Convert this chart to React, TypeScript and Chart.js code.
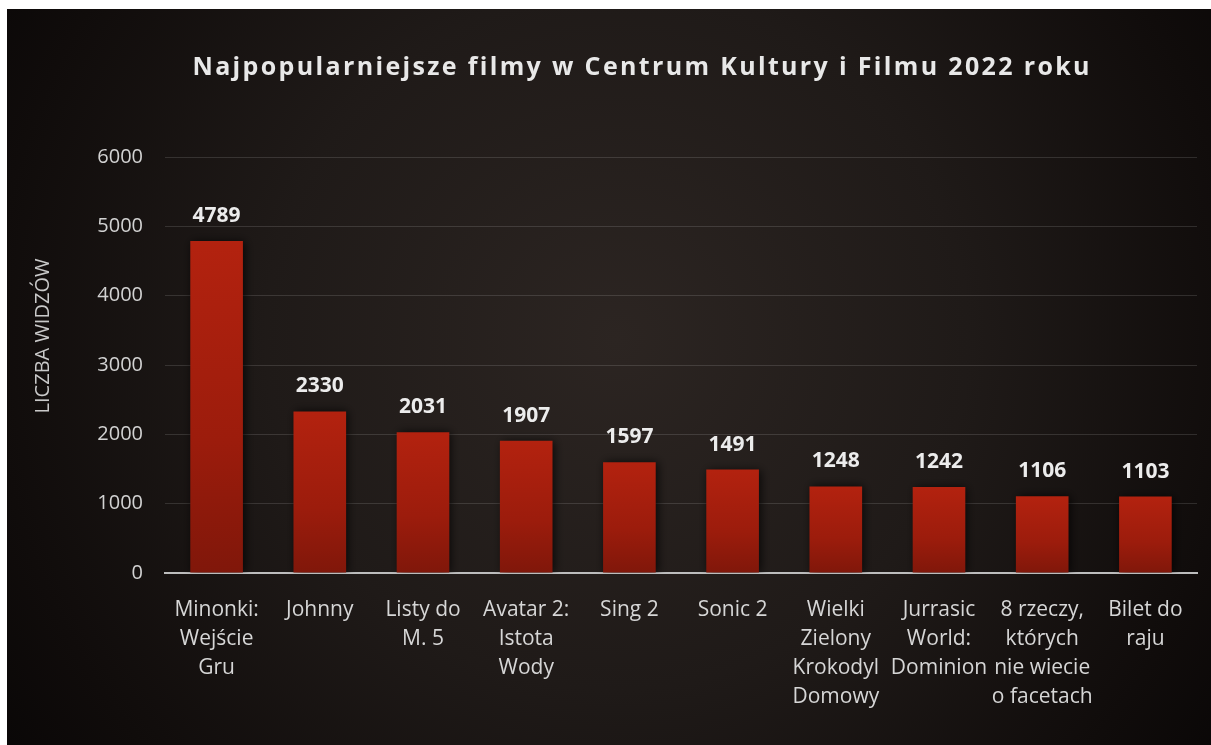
import React, { useEffect, useRef } from 'react';
import { Chart, registerables } from 'chart.js';

Chart.register(...registerables);

const chartTitle = 'Najpopularniejsze filmy w Centrum Kultury i Filmu 2022 roku';
const yAxisTitle = 'LICZBA WIDZÓW';
const categories: string[][] = [
  ['Minonki:', 'Wejście', 'Gru'],
  ['Johnny'],
  ['Listy do', 'M. 5'],
  ['Avatar 2:', 'Istota', 'Wody'],
  ['Sing 2'],
  ['Sonic 2'],
  ['Wielki', 'Zielony', 'Krokodyl', 'Domowy'],
  ['Jurrasic', 'World:', 'Dominion'],
  ['8 rzeczy,', 'których', 'nie wiecie', 'o facetach'],
  ['Bilet do', 'raju'],
];
const viewers = [4789, 2330, 2031, 1907, 1597, 1491, 1248, 1242, 1106, 1103];
const yMin = 0;
const yMax = 6000;
const yStep = 1000;

const FONT = '"Open Sans", "DejaVu Sans", sans-serif';

const decorPlugin = {
  id: 'decor',
  beforeDraw(chart: any) {
    const { ctx, width, height } = chart;
    ctx.save();
    const g = ctx.createRadialGradient(610, 330, 0, 610, 330, 780);
    g.addColorStop(0, '#2c2522');
    g.addColorStop(0.45, '#1f1a18');
    g.addColorStop(0.8, '#100c0b');
    g.addColorStop(1, '#070505');
    ctx.fillStyle = g;
    ctx.fillRect(0, 0, width, height);
    ctx.restore();
  },
  beforeDatasetsDraw(chart: any) {
    const ctx = chart.ctx;
    ctx.save();
    ctx.shadowColor = 'rgba(0,0,0,0.75)';
    ctx.shadowBlur = 9;
    ctx.shadowOffsetX = 2;
    ctx.shadowOffsetY = 0;
  },
  afterDatasetsDraw(chart: any) {
    const ctx = chart.ctx;
    ctx.restore();
    ctx.save();
    // value labels
    const meta = chart.getDatasetMeta(0);
    ctx.font = `bold 21px ${FONT}`;
    ctx.fillStyle = '#ececec';
    ctx.textAlign = 'center';
    ctx.textBaseline = 'alphabetic';
    meta.data.forEach((bar: any, i: number) => {
      ctx.fillText(String(viewers[i]), bar.x, bar.y - 19);
    });
    // title
    ctx.font = `bold 25px ${FONT}`;
    ctx.fillStyle = '#e8e8e8';
    (ctx as any).letterSpacing = '0px';
    const w0 = ctx.measureText(chartTitle).width;
    const target = 897;
    const sp = (target - w0) / (chartTitle.length - 1);
    (ctx as any).letterSpacing = `${sp}px`;
    ctx.textAlign = 'left';
    ctx.fillText(chartTitle, 634 - target / 2, 66);
    (ctx as any).letterSpacing = '0px';
    // y axis title
    ctx.translate(36, 327);
    ctx.rotate(-Math.PI / 2);
    ctx.font = `20px ${FONT}`;
    ctx.fillStyle = '#c9c9c9';
    ctx.textAlign = 'center';
    ctx.textBaseline = 'middle';
    ctx.fillText(yAxisTitle, 0, 0);
    ctx.restore();
  },
};

export default function App() {
  const ref = useRef<HTMLCanvasElement | null>(null);
  useEffect(() => {
    if (!ref.current) return;
    const chart = new Chart(ref.current, {
      type: 'bar',
      data: {
        labels: categories,
        datasets: [
          {
            data: viewers,
            barPercentage: 0.51,
            categoryPercentage: 1,
            backgroundColor: (c: any) => {
              const ch = c.chart;
              const ys = ch.scales?.y;
              if (!ys || c.parsed == null) return '#a51f0e';
              const top = ys.getPixelForValue(c.parsed.y);
              const bottom = ys.getPixelForValue(0);
              if (!isFinite(top) || !isFinite(bottom) || top === bottom) return '#a51f0e';
              const g = ch.ctx.createLinearGradient(0, top, 0, bottom);
              g.addColorStop(0, '#b3220f');
              g.addColorStop(0.6, '#9c1c0c');
              g.addColorStop(1, '#80170a');
              return g;
            },
            borderWidth: 0,
          },
        ],
      },
      options: {
        responsive: false,
        animation: false,
        layout: { padding: { top: 148, right: 14, left: 0, bottom: 0 } },
        plugins: {
          legend: { display: false },
          title: { display: false },
          tooltip: { enabled: false },
        },
        scales: {
          x: {
            grid: { display: false },
            border: { display: true, color: '#bdbdbd', width: 2 },
            ticks: {
              color: '#d6d6d6',
              font: { family: FONT, size: 21, lineHeight: '29px' as any },
              padding: 15,
              autoSkip: false,
              maxRotation: 0,
              minRotation: 0,
            },
            afterFit: (s: any) => {
              s.height = 172;
            },
          },
          y: {
            min: yMin,
            max: yMax,
            border: { display: false },
            grid: { color: 'rgba(255,255,255,0.13)', lineWidth: 1, drawTicks: false },
            ticks: {
              stepSize: yStep,
              color: '#d2d2d2',
              font: { family: FONT, size: 20 },
              padding: 22,
              callback: (v: any) => String(v),
            },
            afterFit: (s: any) => {
              s.width = 158;
            },
          },
        },
      },
      plugins: [decorPlugin],
    });
    return () => chart.destroy();
  }, []);
  return (
    <div style={{ position: 'fixed', left: 7, top: 9, width: 1204, height: 736 }}>
      <canvas ref={ref} width={1204} height={736} style={{ display: 'block' }} />
    </div>
  );
}
